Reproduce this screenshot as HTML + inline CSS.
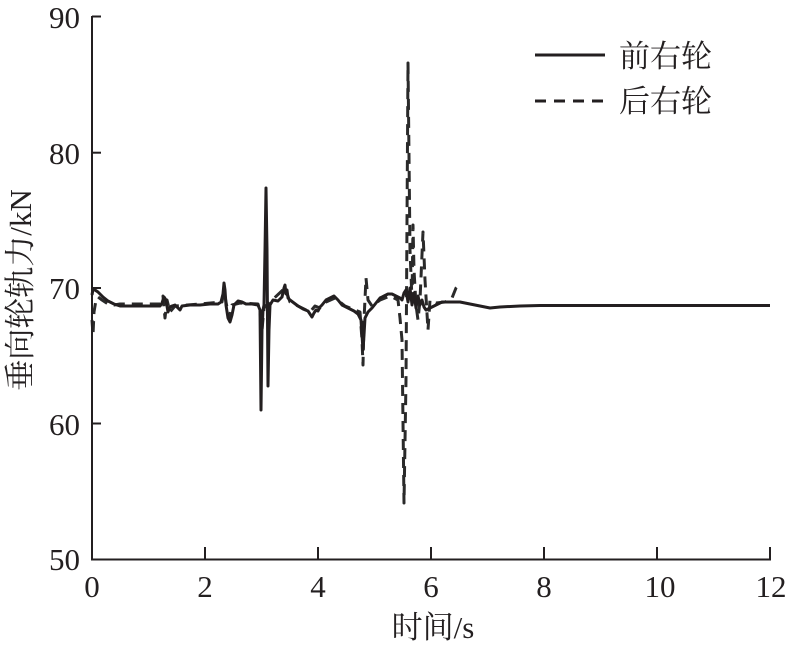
<!DOCTYPE html>
<html><head><meta charset="utf-8"><style>
html,body{margin:0;padding:0;background:#fff;}
svg{display:block;}
.t{font-family:"Liberation Serif","Noto Serif CJK SC",serif;fill:#231f20;}
</style></head><body>
<svg width="787" height="646" viewBox="0 0 787 646" xmlns="http://www.w3.org/2000/svg">
<rect width="787" height="646" fill="#fff"/>
<!-- dashed rear -->
<polyline fill="none" stroke="#2a2a2a" stroke-width="3" stroke-dasharray="11 7" stroke-linejoin="round" points="
92,320 93,335 94,312 96,300 98,297 102,300 108,304 114,305 120,304 160,304 163,296 165,318 167,300 170,312 175,306 200,304 222,302 224,290 226,302 229,318 232,305 240,303 258,304 260,312 262,330 264,308 270,302 285,288 290,302 310,312 315,306 320,308 326,302 335,298 345,306 360,312 362,340 363,365 364,320 366,278 368,300 372,306 380,300 390,296 398,300 400,318 402,340 404,503 406,380 408,63 410,250 412,300 413,225 414,270 416,305 418,320 420,300 423,232 425,280 428,330 430,300 436,303 445,302 452,298 456,288 460,283"/>
<!-- solid front -->
<polyline fill="none" stroke="#231f20" stroke-width="3" stroke-linejoin="round" points="
92,295 93,289 95,290 98,292 103,297 108,301 114,304 120,306 130,306 150,306 160,306 162,303 164,297 166,300 167,306 168,312 170,307 172,306 175,305 178,308 180,310 182,306 190,305 200,305 210,304 218,304 221,302 223,294 224,283 225,290 226,305 228,318 230,322 232,315 234,305 238,301 242,302 246,304 252,304 258,305 260,310 261,410 262,330 263,310 264,305 265,250 266,188 267,250 268,386 269,330 270,305 273,300 278,301 282,297 284,288 285,285 286,294 287,290 288,298 290,300 294,303 298,306 303,309 308,311 312,317 314,313 316,310 318,311 320,307 322,305 326,300 330,298 334,296 338,300 342,305 348,308 354,311 358,314 361,320 362,335 363,350 364,335 365,318 368,312 372,308 376,303 380,298 384,296 388,294 392,294 396,296 400,298 402,300 404,293 406,290 408,302 410,288 412,305 414,293 416,308 418,296 420,305 422,300 424,307 426,310 430,308 436,305 442,302 450,302 460,302 470,304 480,306 490,308 500,307 520,306 540,305.5 600,305.5 700,305.5 770,305.5"/>
<!-- axes -->
<g stroke="#231f20" stroke-width="2" fill="none">
<line x1="92" y1="16" x2="92" y2="560"/>
<line x1="91" y1="559.5" x2="771" y2="559.5"/>
<line x1="92" y1="16.5" x2="101" y2="16.5"/>
<line x1="92" y1="152.7" x2="101" y2="152.7"/>
<line x1="92" y1="288" x2="101" y2="288"/>
<line x1="92" y1="423.5" x2="101" y2="423.5"/>
<line x1="205" y1="547" x2="205" y2="559"/>
<line x1="318" y1="547" x2="318" y2="559"/>
<line x1="431" y1="547" x2="431" y2="559"/>
<line x1="544" y1="547" x2="544" y2="559"/>
<line x1="657" y1="547" x2="657" y2="559"/>
<line x1="770" y1="547" x2="770" y2="559"/>
</g>
<!-- y tick labels -->
<g class="t" font-size="31" text-anchor="end">
<text x="80" y="28">90</text>
<text x="80" y="164">80</text>
<text x="80" y="299">70</text>
<text x="80" y="435">60</text>
<text x="80" y="570">50</text>
</g>
<!-- x tick labels -->
<g class="t" font-size="31" text-anchor="middle">
<text x="92" y="597">0</text>
<text x="205" y="597">2</text>
<text x="318" y="597">4</text>
<text x="431" y="597">6</text>
<text x="544" y="597">8</text>
<text x="660" y="597">10</text>
<text x="771" y="597">12</text>
</g>
<text class="t" font-size="31" text-anchor="middle" x="433" y="638">时间/s</text>
<text class="t" font-size="31" text-anchor="middle" x="31" y="290" transform="rotate(-90 31 290)">垂向轮轨力/kN</text>
<!-- legend -->
<line x1="535" y1="55" x2="605" y2="55" stroke="#231f20" stroke-width="3"/>
<line x1="535" y1="101" x2="605" y2="101" stroke="#231f20" stroke-width="3" stroke-dasharray="11 8"/>
<text class="t" font-size="31" x="619" y="67">前右轮</text>
<text class="t" font-size="31" x="619" y="112">后右轮</text>
</svg>
</body></html>
